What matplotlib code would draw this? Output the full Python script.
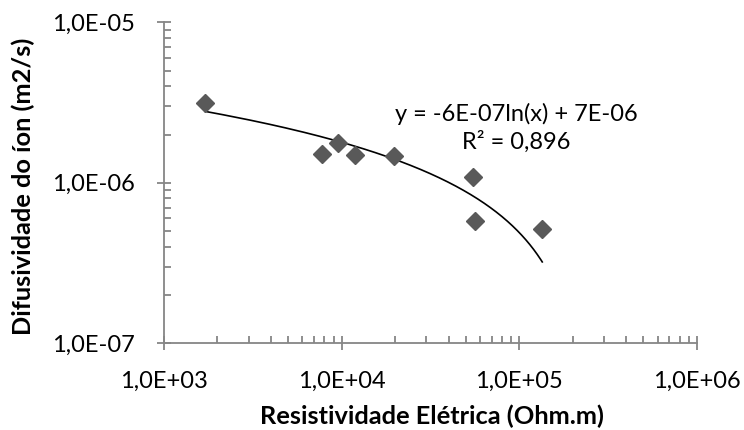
import numpy as np
import matplotlib.pyplot as plt
from matplotlib.ticker import FixedLocator, LogLocator, NullFormatter

plt.rcParams['font.family'] = ['Lato', 'DejaVu Sans']

# dados
resistividade = [1701, 7785, 9573, 11930, 19770, 55040, 56230, 134600]
difusividade = [3.16e-6, 1.52e-6, 1.76e-6, 1.50e-6, 1.47e-6, 1.08e-6, 5.81e-7, 5.18e-7]
xticks = [1e3, 1e4, 1e5, 1e6]
xlabels = ['1,0E+03', '1,0E+04', '1,0E+05', '1,0E+06']
yticks = [1e-7, 1e-6, 1e-5]
ylabels = ['1,0E-07', '1,0E-06', '1,0E-05']

# linha de tendencia logaritmica (y = a ln(x) + b)
a, b = np.polyfit(np.log(resistividade), difusividade, 1)
xt = np.linspace(min(resistividade), max(resistividade), 300)
yt = a * np.log(xt) + b

fig = plt.figure(figsize=(7.44, 4.30), dpi=100)
ax = fig.add_axes([0.2204, 0.2016, 0.7164, 0.7464])

ax.plot(xt, yt, color='black', lw=1.2, zorder=2)
ax.plot(resistividade, difusividade, 'D', color='#595959', markersize=9.5, zorder=3)

ax.set_xscale('log')
ax.set_yscale('log')
ax.set_xlim(1e3, 1e6)
ax.set_ylim(1e-7, 1e-5)

gray = '#868686'
for s in ['top', 'right']:
    ax.spines[s].set_visible(False)
for s in ['left', 'bottom']:
    ax.spines[s].set_color(gray)
    ax.spines[s].set_linewidth(1.3)

ax.xaxis.set_major_locator(FixedLocator(xticks))
ax.set_xticklabels(xlabels)
ax.yaxis.set_major_locator(FixedLocator(yticks))
ax.set_yticklabels(ylabels)
ax.xaxis.set_minor_locator(LogLocator(base=10, subs=np.arange(2, 10)))
ax.yaxis.set_minor_locator(LogLocator(base=10, subs=np.arange(2, 10)))
ax.xaxis.set_minor_formatter(NullFormatter())
ax.yaxis.set_minor_formatter(NullFormatter())

ax.tick_params(which='major', direction='inout', length=10, width=1.3, color=gray,
               labelsize=17, labelcolor='black')
ax.tick_params(axis='x', which='major', pad=15)
ax.tick_params(axis='y', which='major', pad=16)
ax.tick_params(which='minor', direction='in', length=5, width=1.3, color=gray)

ax.set_xlabel('Resistividade Elétrica (Ohm.m)', fontsize=18.3, fontweight='bold')
ax.set_ylabel('Difusividade do íon (m2/s)', fontsize=18.3, fontweight='bold')
ax.xaxis.set_label_coords(432 / 744, 1 - 405 / 430, transform=fig.transFigure)
ax.yaxis.set_label_coords(35 / 744, 1 - 186 / 430, transform=fig.transFigure)

ax.text(516 / 744, 1 - 128 / 430, 'y = -6E-07ln(x) + 7E-06\nR² = 0,896',
        transform=fig.transFigure, ha='center', va='center', fontsize=17,
        linespacing=1.3, multialignment='center')

fig.savefig('out.png', dpi=100)
